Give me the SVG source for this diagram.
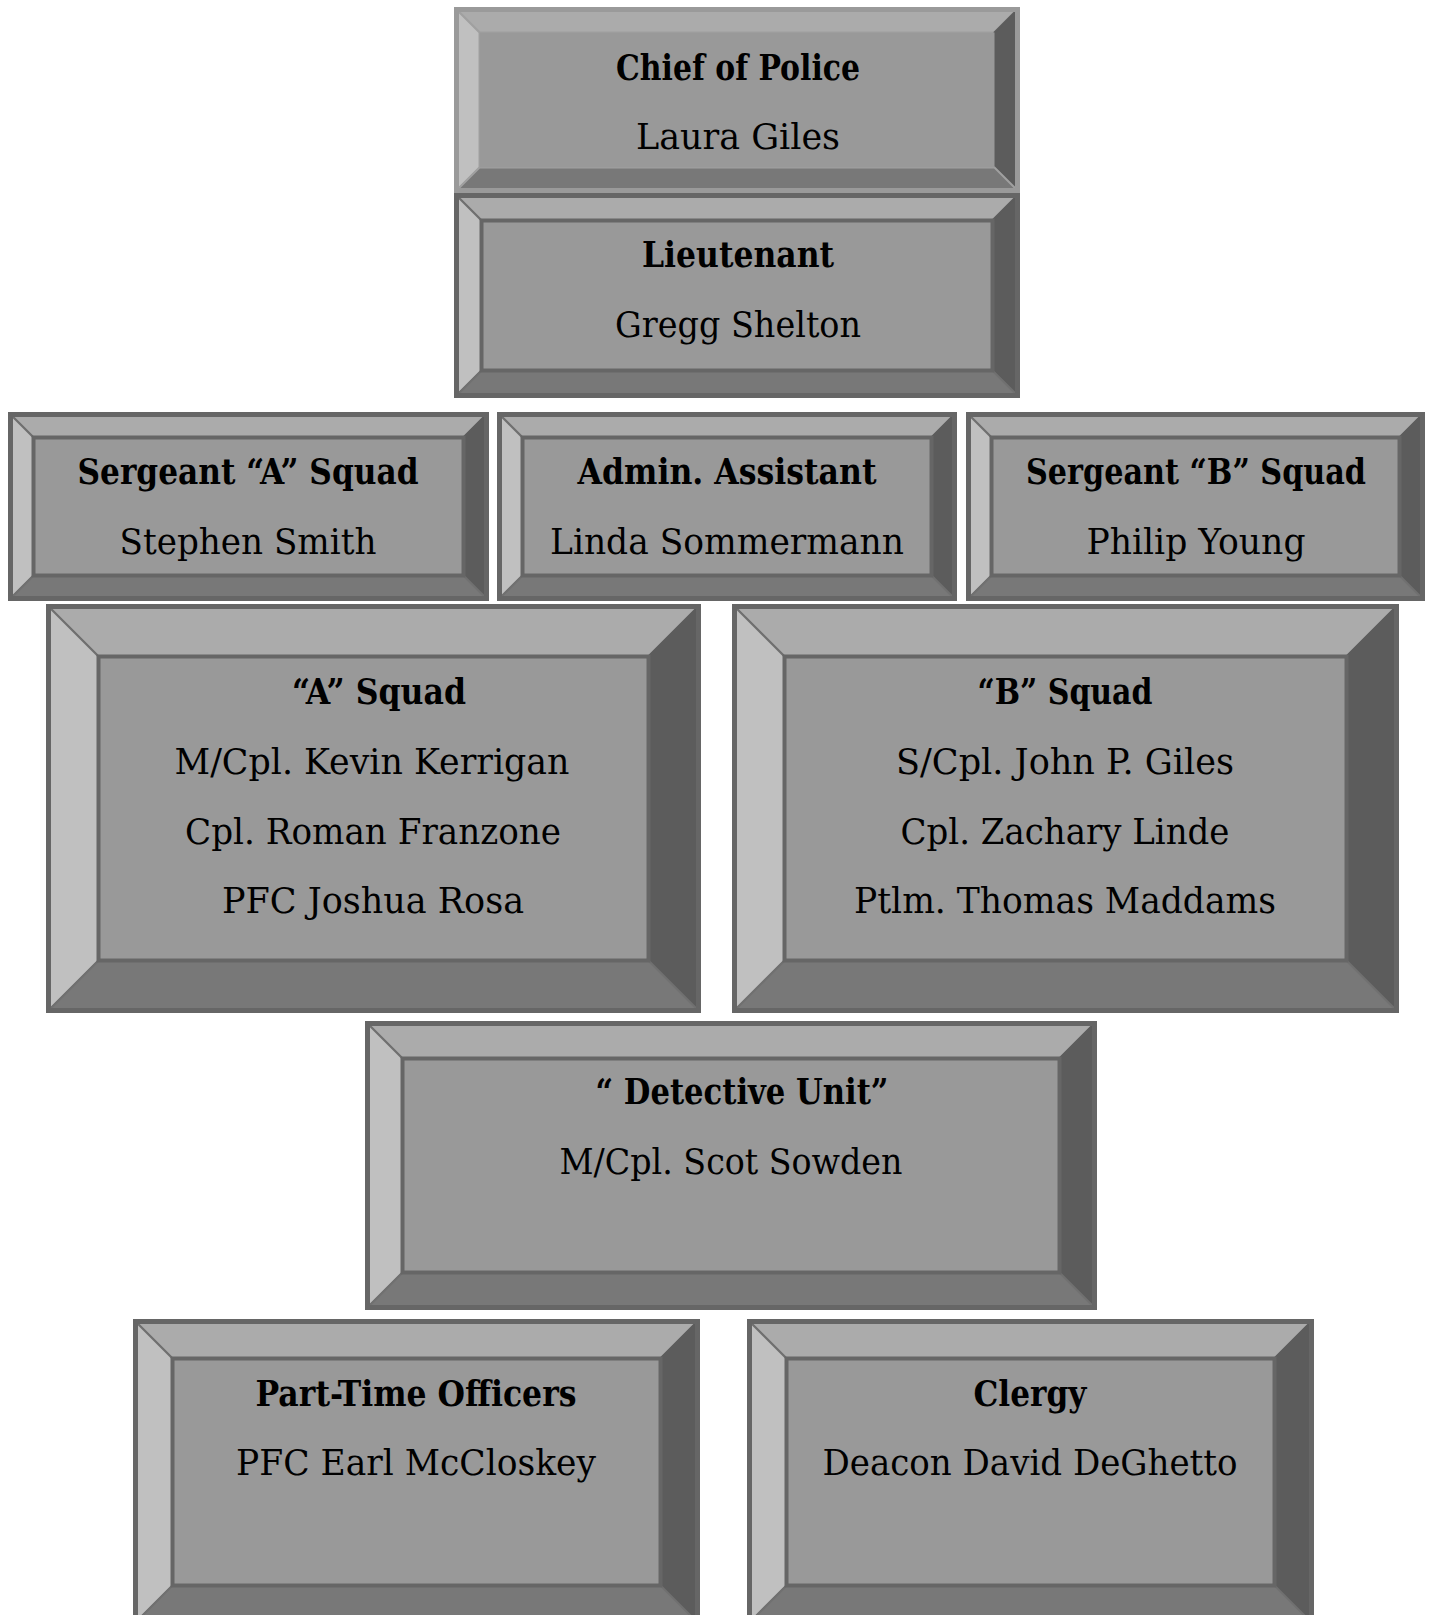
<svg xmlns="http://www.w3.org/2000/svg" width="1430" height="1615" viewBox="0 0 1430 1615">
<style>
.t{fill:#ababab;stroke:#707070;stroke-width:2}
.l{fill:#c0c0c0;stroke:#707070;stroke-width:2}
.r{fill:#5c5c5c;stroke:#5c5c5c;stroke-width:2}
.b{fill:#787878;stroke:#707070;stroke-width:2}
.face{fill:#999999;stroke:#666666;stroke-width:4}
.frame{fill:none;stroke:#666666;stroke-width:5}
.chief .face{stroke:none}
.chief .frame{stroke:#9a9a9a}
.chief .t,.chief .l,.chief .b{stroke:#a0a0a0}
text{font-family:"DejaVu Serif","Liberation Serif",serif;font-size:35px;fill:#000;text-anchor:middle}
.h{font-weight:bold}
</style>
<rect width="1430" height="1615" fill="#ffffff"/>
<g id="connectors"></g>

<g id="chief" class="chief">
<path class="t" d="M456.5,9.5 H1017.5 L994.5,32.5 H479.5 Z"/>
<path class="l" d="M456.5,9.5 L479.5,32.5 V167.5 L456.5,190.5 Z"/>
<path class="r" d="M1017.5,9.5 V190.5 L994.5,167.5 V32.5 Z"/>
<path class="b" d="M456.5,190.5 L479.5,167.5 H994.5 L1017.5,190.5 Z"/>
<rect class="face" x="479.5" y="32.5" width="515" height="135"/>
<rect class="frame" x="456.5" y="9.5" width="561" height="181"/>
<text class="h" x="738" y="80" textLength="244" lengthAdjust="spacingAndGlyphs">Chief of Police</text>
<text x="738" y="149" textLength="204" lengthAdjust="spacingAndGlyphs">Laura Giles</text>
</g>

<g id="lieutenant">
<path class="t" d="M456.5,195.5 H1017.5 L992.5,220.5 H481.5 Z"/>
<path class="l" d="M456.5,195.5 L481.5,220.5 V370.5 L456.5,395.5 Z"/>
<path class="r" d="M1017.5,195.5 V395.5 L992.5,370.5 V220.5 Z"/>
<path class="b" d="M456.5,395.5 L481.5,370.5 H992.5 L1017.5,395.5 Z"/>
<rect class="face" x="481.5" y="220.5" width="511" height="150"/>
<rect class="frame" x="456.5" y="195.5" width="561" height="200"/>
<text class="h" x="738" y="267" textLength="192" lengthAdjust="spacingAndGlyphs">Lieutenant</text>
<text x="738" y="337" textLength="246" lengthAdjust="spacingAndGlyphs">Gregg Shelton</text>
</g>

<g id="sergeant-a">
<path class="t" d="M10.5,414.5 H486.5 L463.5,437.5 H33.5 Z"/>
<path class="l" d="M10.5,414.5 L33.5,437.5 V575.5 L10.5,598.5 Z"/>
<path class="r" d="M486.5,414.5 V598.5 L463.5,575.5 V437.5 Z"/>
<path class="b" d="M10.5,598.5 L33.5,575.5 H463.5 L486.5,598.5 Z"/>
<rect class="face" x="33.5" y="437.5" width="430" height="138"/>
<rect class="frame" x="10.5" y="414.5" width="476" height="184"/>
<text class="h" x="248" y="484" textLength="341" lengthAdjust="spacingAndGlyphs">Sergeant “A” Squad</text>
<text x="248" y="554" textLength="257" lengthAdjust="spacingAndGlyphs">Stephen Smith</text>
</g>

<g id="admin-assistant">
<path class="t" d="M499.5,414.5 H954.5 L931.5,437.5 H522.5 Z"/>
<path class="l" d="M499.5,414.5 L522.5,437.5 V575.5 L499.5,598.5 Z"/>
<path class="r" d="M954.5,414.5 V598.5 L931.5,575.5 V437.5 Z"/>
<path class="b" d="M499.5,598.5 L522.5,575.5 H931.5 L954.5,598.5 Z"/>
<rect class="face" x="522.5" y="437.5" width="409" height="138"/>
<rect class="frame" x="499.5" y="414.5" width="455" height="184"/>
<text class="h" x="727" y="484" textLength="299" lengthAdjust="spacingAndGlyphs">Admin. Assistant</text>
<text x="727" y="554" textLength="354" lengthAdjust="spacingAndGlyphs">Linda Sommermann</text>
</g>

<g id="sergeant-b">
<path class="t" d="M968.5,414.5 H1422.5 L1399.5,437.5 H991.5 Z"/>
<path class="l" d="M968.5,414.5 L991.5,437.5 V575.5 L968.5,598.5 Z"/>
<path class="r" d="M1422.5,414.5 V598.5 L1399.5,575.5 V437.5 Z"/>
<path class="b" d="M968.5,598.5 L991.5,575.5 H1399.5 L1422.5,598.5 Z"/>
<rect class="face" x="991.5" y="437.5" width="408" height="138"/>
<rect class="frame" x="968.5" y="414.5" width="454" height="184"/>
<text class="h" x="1196" y="484" textLength="340" lengthAdjust="spacingAndGlyphs">Sergeant “B” Squad</text>
<text x="1196" y="554" textLength="219" lengthAdjust="spacingAndGlyphs">Philip Young</text>
</g>

<g id="a-squad">
<path class="t" d="M48.5,606.5 H698.5 L648.5,656.5 H98.5 Z"/>
<path class="l" d="M48.5,606.5 L98.5,656.5 V960.5 L48.5,1010.5 Z"/>
<path class="r" d="M698.5,606.5 V1010.5 L648.5,960.5 V656.5 Z"/>
<path class="b" d="M48.5,1010.5 L98.5,960.5 H648.5 L698.5,1010.5 Z"/>
<rect class="face" x="98.5" y="656.5" width="550" height="304"/>
<rect class="frame" x="48.5" y="606.5" width="650" height="404"/>
<text class="h" x="379" y="704" textLength="174" lengthAdjust="spacingAndGlyphs">“A” Squad</text>
<text x="372" y="774" textLength="395" lengthAdjust="spacingAndGlyphs">M/Cpl. Kevin Kerrigan</text>
<text x="373" y="843.5" textLength="376" lengthAdjust="spacingAndGlyphs">Cpl. Roman Franzone</text>
<text x="373" y="913" textLength="302" lengthAdjust="spacingAndGlyphs">PFC Joshua Rosa</text>
</g>

<g id="b-squad">
<path class="t" d="M734.5,606.5 H1396.5 L1346.5,656.5 H784.5 Z"/>
<path class="l" d="M734.5,606.5 L784.5,656.5 V960.5 L734.5,1010.5 Z"/>
<path class="r" d="M1396.5,606.5 V1010.5 L1346.5,960.5 V656.5 Z"/>
<path class="b" d="M734.5,1010.5 L784.5,960.5 H1346.5 L1396.5,1010.5 Z"/>
<rect class="face" x="784.5" y="656.5" width="562" height="304"/>
<rect class="frame" x="734.5" y="606.5" width="662" height="404"/>
<text class="h" x="1065" y="704" textLength="175" lengthAdjust="spacingAndGlyphs">“B” Squad</text>
<text x="1065" y="774" textLength="338" lengthAdjust="spacingAndGlyphs">S/Cpl. John P. Giles</text>
<text x="1065" y="843.5" textLength="329" lengthAdjust="spacingAndGlyphs">Cpl. Zachary Linde</text>
<text x="1065" y="913" textLength="422" lengthAdjust="spacingAndGlyphs">Ptlm. Thomas Maddams</text>
</g>

<g id="detective-unit">
<path class="t" d="M367.5,1023.5 H1094.5 L1059.5,1058.5 H402.5 Z"/>
<path class="l" d="M367.5,1023.5 L402.5,1058.5 V1272.5 L367.5,1307.5 Z"/>
<path class="r" d="M1094.5,1023.5 V1307.5 L1059.5,1272.5 V1058.5 Z"/>
<path class="b" d="M367.5,1307.5 L402.5,1272.5 H1059.5 L1094.5,1307.5 Z"/>
<rect class="face" x="402.5" y="1058.5" width="657" height="214"/>
<rect class="frame" x="367.5" y="1023.5" width="727" height="284"/>
<text class="h" x="742" y="1104" textLength="293" lengthAdjust="spacingAndGlyphs">“ Detective Unit”</text>
<text x="731" y="1174" textLength="343" lengthAdjust="spacingAndGlyphs">M/Cpl. Scot Sowden</text>
</g>

<g id="part-time-officers">
<path class="t" d="M135.5,1321.5 H697.5 L660.5,1358.5 H172.5 Z"/>
<path class="l" d="M135.5,1321.5 L172.5,1358.5 V1585.5 L135.5,1622.5 Z"/>
<path class="r" d="M697.5,1321.5 V1622.5 L660.5,1585.5 V1358.5 Z"/>
<path class="b" d="M135.5,1622.5 L172.5,1585.5 H660.5 L697.5,1622.5 Z"/>
<rect class="face" x="172.5" y="1358.5" width="488" height="227"/>
<rect class="frame" x="135.5" y="1321.5" width="562" height="301"/>
<text class="h" x="416" y="1406" textLength="321" lengthAdjust="spacingAndGlyphs">Part-Time Officers</text>
<text x="416" y="1475" textLength="360" lengthAdjust="spacingAndGlyphs">PFC Earl McCloskey</text>
</g>

<g id="clergy">
<path class="t" d="M749.5,1321.5 H1311.5 L1274.5,1358.5 H786.5 Z"/>
<path class="l" d="M749.5,1321.5 L786.5,1358.5 V1585.5 L749.5,1622.5 Z"/>
<path class="r" d="M1311.5,1321.5 V1622.5 L1274.5,1585.5 V1358.5 Z"/>
<path class="b" d="M749.5,1622.5 L786.5,1585.5 H1274.5 L1311.5,1622.5 Z"/>
<rect class="face" x="786.5" y="1358.5" width="488" height="227"/>
<rect class="frame" x="749.5" y="1321.5" width="562" height="301"/>
<text class="h" x="1030" y="1406" textLength="113" lengthAdjust="spacingAndGlyphs">Clergy</text>
<text x="1030" y="1475" textLength="415" lengthAdjust="spacingAndGlyphs">Deacon David DeGhetto</text>
</g>
</svg>
